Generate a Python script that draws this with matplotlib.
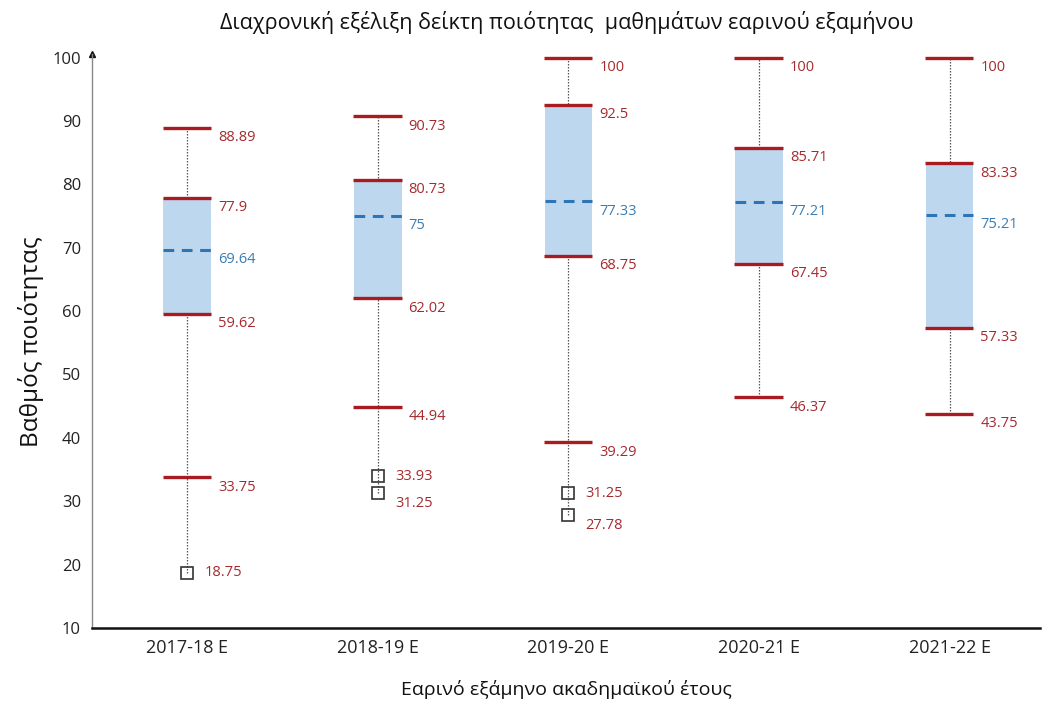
import matplotlib
matplotlib.use("Agg")
import matplotlib.pyplot as plt
from matplotlib.transforms import offset_copy

plt.rcParams['font.family'] = ['Open Sans', 'DejaVu Sans']

categories = ["2017-18 E", "2018-19 E", "2019-20 E", "2020-21 E", "2021-22 E"]
whisk_hi = [88.89, 90.73, 100, 100, 100]
q3 = [77.9, 80.73, 92.5, 85.71, 83.33]
median = [69.64, 75, 77.33, 77.21, 75.21]
q1 = [59.62, 62.02, 68.75, 67.45, 57.33]
whisk_lo = [33.75, 44.94, 39.29, 46.37, 43.75]
outliers = [[18.75], [33.93, 31.25], [31.25, 27.78], [], []]

title = "Διαχρονική εξέλιξη δείκτη ποιότητας  μαθημάτων εαρινού εξαμήνου"
xlabel = "Εαρινό εξάμηνο ακαδημαϊκού έτους"
ylabel = "Βαθμός ποιότητας"
yticks = [10, 20, 30, 40, 50, 60, 70, 80, 90, 100]

RED = '#A81C21'
RED_TXT = '#A52A2E'
BLUE_FILL = '#BDD7EE'
BLUE_LINE = '#2E75B6'
BLUE_TXT = '#3A7DB3'

fig = plt.figure(figsize=(10.43, 7.04), dpi=100)
ax = fig.add_axes([0.0882, 0.108, 0.909, 0.8146])

w = 0.25
xs = list(range(len(categories)))
for i, x in enumerate(xs):
    lo_ext = min([whisk_lo[i]] + outliers[i])
    ax.vlines(x, lo_ext, whisk_hi[i], color='#555555', lw=0.9,
              linestyles=(0, (1.2, 1.2)), zorder=1)
    ax.bar(x, q3[i] - q1[i], bottom=q1[i], width=w, color=BLUE_FILL,
           edgecolor='none', zorder=2)
    ax.hlines([whisk_lo[i], q1[i], q3[i], whisk_hi[i]], x - w / 2 - 0.005, x + w / 2,
              color=RED, lw=2.4, zorder=3, clip_on=False)
    ax.hlines(median[i], x - w / 2, x + w / 2, color=BLUE_LINE, lw=2.2,
              linestyles=(0, (3.5, 2.5)), zorder=4)
    if outliers[i]:
        ax.plot([x] * len(outliers[i]), outliers[i], 's', ms=9, mfc='none',
                mec='#333333', mew=1.2, zorder=5)

    def lab(val, color, dy, dx_units=w / 2, dx_pts=5):
        tr = offset_copy(ax.transData, fig=fig, x=dx_pts, y=dy, units='points')
        ax.text(x + dx_units, val, f"{val:g}", transform=tr, color=color,
                fontsize=10.5, va='center', ha='left')

    for v in [whisk_hi[i], q3[i], q1[i], whisk_lo[i]]:
        lab(v, RED_TXT, -7)
    lab(median[i], BLUE_TXT, -7)
    for k, v in enumerate(outliers[i]):
        lab(v, RED_TXT, 0 if k == 0 else -7, dx_units=0.06, dx_pts=4)

ax.set_xlim(-0.5, 4.475)
ax.set_ylim(10, 100.5)
ax.set_yticks(yticks)
ax.set_xticks(xs)
ax.set_xticklabels(categories)
ax.tick_params(axis='both', length=0, colors='#222222')
ax.tick_params(axis='y', pad=8, labelsize=12)
ax.tick_params(axis='x', pad=8, labelsize=13)

for s in ['top', 'right']:
    ax.spines[s].set_visible(False)
ax.spines['left'].set_color('#888888')
ax.spines['left'].set_linewidth(1.0)
ax.spines['bottom'].set_color('#111111')
ax.spines['bottom'].set_linewidth(1.8)
ax.plot([0], [1], marker='^', color='#111111', ms=4, transform=ax.transAxes,
        clip_on=False)

ax.set_ylabel(ylabel, fontsize=17.5, labelpad=6, color='#111111')
fig.text(0.543, 0.020, xlabel, ha='center', va='center', fontsize=14, color='#111111')
fig.text(0.543, 0.968, title, ha='center', va='center', fontsize=15.5, color='#111111')

fig.savefig("out.png", dpi=100)
